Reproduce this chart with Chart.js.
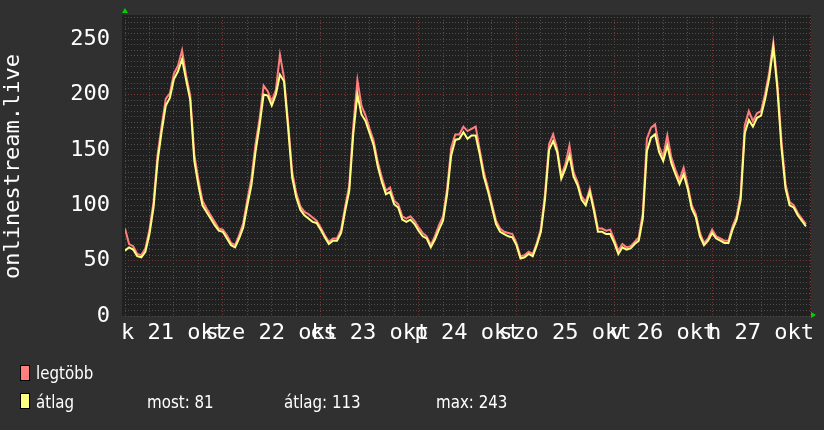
<!DOCTYPE html>
<html>
<head>
<meta charset="utf-8">
<script src="https://cdn.jsdelivr.net/npm/chart.js@4.4.1/dist/chart.umd.min.js"></script>
<style>
  html, body { margin: 0; padding: 0; background: #303030; }
  #wrap { position: relative; width: 824px; height: 430px; overflow: hidden; }
  canvas { position: absolute; left: 0; top: 0; }
  .legend {
    position: absolute; color: #fff; white-space: pre;
    font-family: 'DejaVu Sans Condensed', 'DejaVu Sans', sans-serif; font-stretch: condensed;
    font-size: 18px; line-height: 18px;
    transform: scaleX(0.93); transform-origin: 0 0;
  }
  .box { position: absolute; width: 8px; height: 14px; border: 1px solid #000; }
</style>
</head>
<body>
<div id="wrap">
  <canvas id="chart" width="824" height="430"></canvas>
  <div class="box" style="left:20px; top:365px; background:#ff7f7f"></div>
  <div class="legend" style="left:36px; top:364px">legtöbb</div>
  <div class="box" style="left:20px; top:393px; background:#ffff7f"></div>
  <div class="legend" style="left:36px; top:393px">átlag</div>
  <div class="legend" id="stat-most" style="left:147px; top:393px"></div>
  <div class="legend" id="stat-avg" style="left:284px; top:393px"></div>
  <div class="legend" id="stat-max" style="left:436px; top:393px"></div>
</div>
<script>
// one value per hour, 7 days starting at midnight of 21 okt
const avgValues = [
    59, 62, 60, 54, 53, 58, 74, 98, 140, 167, 190, 197, 214, 221, 232, 213, 195, 140, 118, 100, 94, 88, 82, 77,
    76, 70, 64, 62, 70, 80, 100, 118, 148, 172, 200, 199, 190, 200, 218, 212, 170, 125, 107, 96, 91, 88, 85, 84,
    78, 71, 65, 68, 68, 75, 95, 113, 165, 200, 182, 176, 165, 154, 135, 121, 110, 112, 101, 98, 87, 85, 87, 83,
    77, 72, 70, 62, 69, 78, 86, 110, 145, 159, 160, 166, 160, 163, 163, 146, 126, 113, 98, 83, 76, 74, 72, 71,
    64, 52, 53, 56, 54, 64, 76, 105, 150, 158, 148, 124, 133, 145, 126, 118, 105, 100, 112, 95, 76, 76, 74, 74,
    66, 56, 62, 60, 61, 65, 68, 88, 149, 161, 164, 148, 140, 154, 138, 128, 119, 128, 115, 97, 89, 72, 64, 68,
    75, 70, 68, 66, 66, 78, 87, 105, 165, 177, 171, 179, 181, 196, 215, 243, 205, 152, 115, 100, 98, 91, 86, 81
];
const maxValues = [
    79, 65, 63, 56, 55, 61, 78, 103, 146, 172, 196, 201, 219, 226, 240, 217, 199, 146, 123, 104, 97, 91, 85, 79,
    78, 73, 66, 64, 73, 84, 105, 124, 155, 178, 208, 203, 194, 204, 236, 215, 175, 130, 111, 99, 94, 92, 89, 86,
    80, 73, 67, 70, 70, 78, 99, 118, 172, 213, 190, 181, 169, 158, 139, 125, 113, 116, 104, 101, 90, 88, 90, 86,
    80, 75, 72, 64, 72, 82, 90, 115, 152, 164, 164, 171, 167, 169, 171, 150, 130, 116, 101, 86, 79, 76, 75, 74,
    66, 54, 55, 58, 56, 66, 79, 110, 155, 164, 151, 127, 137, 154, 130, 121, 108, 103, 115, 98, 79, 79, 77, 78,
    69, 59, 65, 62, 63, 67, 71, 93, 160, 170, 173, 153, 144, 163, 143, 132, 123, 134, 118, 100, 92, 75, 66, 70,
    78, 72, 70, 68, 68, 81, 90, 110, 172, 185, 176, 183, 185, 201, 220, 247, 210, 158, 119, 103, 100, 93, 88, 83
];
const dayLabels = ['k 21 okt', 'sze 22 okt', 'cs 23 okt', 'p 24 okt', 'szo 25 okt', 'v 26 okt', 'h 27 okt'];
const yLabels = [0, 50, 100, 150, 200, 250];
const legendStats = { most: 81, avg: 113, max: 243 };

document.getElementById('stat-most').textContent = 'most: ' + legendStats.most;
document.getElementById('stat-avg').textContent = 'átlag: ' + legendStats.avg;
document.getElementById('stat-max').textContent = 'max: ' + legendStats.max;

const majorGrid = '#7a3434';
const minorGrid = '#4e4e4e';
const tickFont = { family: 'DejaVu Sans Mono', size: 22 };

// dark plot background
const plotBg = {
    id: 'plotBg',
    beforeDraw(chart) {
        const { ctx, chartArea: a } = chart;
        ctx.save();
        ctx.fillStyle = '#202020';
        ctx.fillRect(a.left - 3, a.top - 2, a.right - a.left + 4, a.bottom - a.top + 2);
        ctx.restore();
    }
};

// green arrow heads on the axes
const arrows = {
    id: 'arrows',
    afterDraw(chart) {
        const { ctx, chartArea: a } = chart;
        ctx.save();
        ctx.fillStyle = '#00d000';
        ctx.beginPath();
        ctx.moveTo(a.left, a.top - 9);
        ctx.lineTo(a.left - 3, a.top - 4);
        ctx.lineTo(a.left + 3, a.top - 4);
        ctx.fill();
        ctx.beginPath();
        ctx.moveTo(a.right + 6, a.bottom - 1);
        ctx.lineTo(a.right + 1, a.bottom - 4);
        ctx.lineTo(a.right + 1, a.bottom + 2);
        ctx.fill();
        ctx.restore();
    }
};

const ctx = document.getElementById('chart').getContext('2d');
new Chart(ctx, {
    type: 'line',
    data: {
        datasets: [{
            label: 'átlag',
            data: avgValues.map((v, i) => ({ x: i, y: v })),
            borderColor: '#ffff80',
            borderWidth: 2,
            pointRadius: 0,
            tension: 0
        }, {
            label: 'legtöbb',
            data: maxValues.map((v, i) => ({ x: i, y: v })),
            borderColor: '#ff7f7f',
            borderWidth: 2,
            pointRadius: 0,
            tension: 0
        }]
    },
    options: {
        responsive: false,
        animation: false,
        layout: { padding: { left: 0, right: 14, top: 17, bottom: 84 } },
        plugins: { legend: { display: false }, tooltip: { enabled: false } },
        scales: {
            x: {
                type: 'linear',
                min: 0,
                max: 168,
                afterBuildTicks: scale => {
                    const ticks = [];
                    for (let h = 0; h <= 168; h += 6) ticks.push({ value: h });
                    scale.ticks = ticks;
                },
                afterFit: scale => {
                    scale.height = 30;
                    scale.paddingLeft = 0;
                    scale.paddingRight = 0;
                },
                grid: {
                    color: c => (c.tick && c.tick.value % 24 === 0 && c.tick.value > 0) ? majorGrid : minorGrid,
                    drawTicks: false
                },
                border: { display: false, dash: [1, 2] },
                ticks: {
                    color: '#ffffff',
                    font: tickFont,
                    padding: 4,
                    maxRotation: 0,
                    autoSkip: false,
                    callback: v => (v % 24 === 12) ? dayLabels[(v - 12) / 24] : ''
                }
            },
            y: {
                min: 0,
                max: 270,
                afterBuildTicks: scale => {
                    const ticks = [];
                    for (let v = 0; v <= 270; v += 5) ticks.push({ value: v });
                    scale.ticks = ticks;
                },
                afterFit: scale => {
                    scale.width = 125;
                    // no extra room above/below for the tick labels
                    scale.paddingTop = 0;
                    scale.paddingBottom = 0;
                },
                grid: {
                    color: c => (c.tick && c.tick.value % 50 === 0 && c.tick.value > 0) ? majorGrid : minorGrid,
                    drawTicks: false
                },
                border: { display: false, dash: [1, 2] },
                title: {
                    display: true,
                    text: 'onlinestream.live',
                    color: '#ffffff',
                    font: tickFont,
                    padding: 0
                },
                ticks: {
                    color: '#ffffff',
                    font: tickFont,
                    padding: 15,
                    autoSkip: false,
                    callback: v => yLabels.includes(v) ? String(v) : ''
                }
            }
        }
    },
    plugins: [plotBg, arrows]
});
</script>
</body>
</html>
